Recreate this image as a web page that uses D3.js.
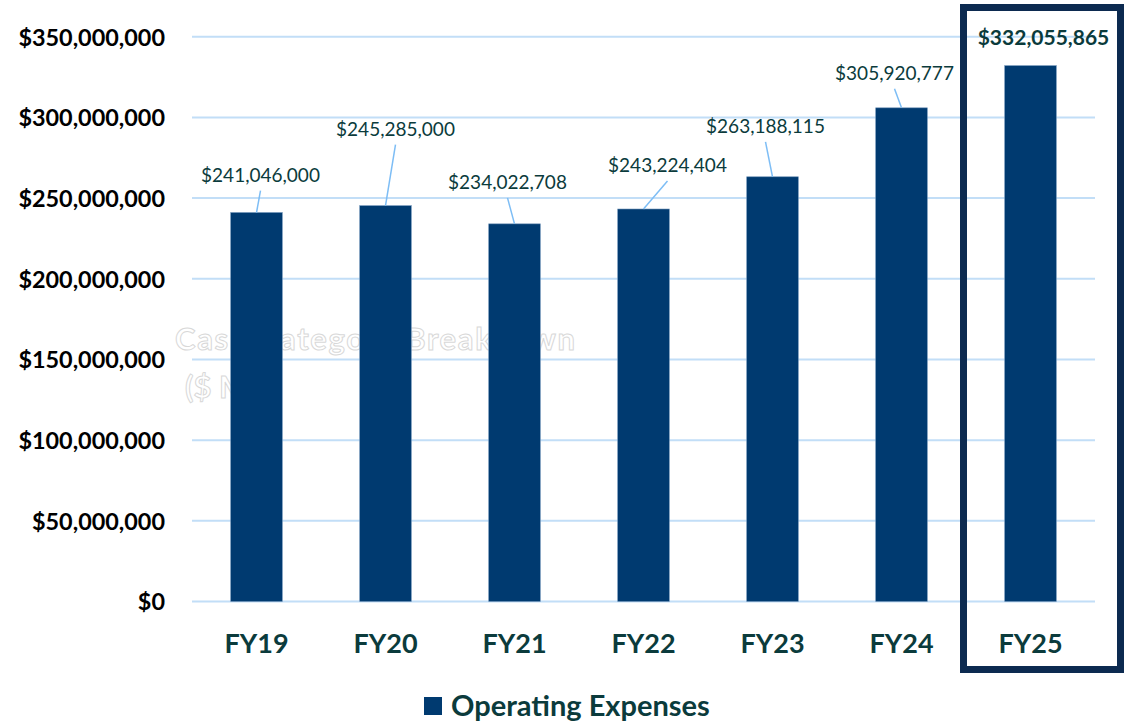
<!DOCTYPE html>
<head>
  <meta charset="UTF-8">
  <title>Operating Expenses</title>
  <style>
  body, html, svg{
    padding: 0;
    margin: 0;
  }
  body{
    background: #fff;
  }
  text{
    font-family: Lato, "Open Sans", sans-serif;
  }
  </style>
</head>
<body>
  <script src="https://cdn.jsdelivr.net/npm/d3@7"></script>
  <script type="text/javascript">
  var width = 1124;
  var height = 723;

  // data
  var years = ['FY19', 'FY20', 'FY21', 'FY22', 'FY23', 'FY24', 'FY25'];
  var expenses = [241046000, 245285000, 234022708, 243224404, 263188115, 305920777, 332055865];
  var yTicks = [0, 50000000, 100000000, 150000000, 200000000, 250000000, 300000000, 350000000];
  var seriesName = 'Operating Expenses';

  // where each data label sits relative to its bar top (layout only)
  var labelDx = [4, 10, -7, 24, -7, -7, 13];
  var labelDy = [-31, -70, -35, -37, -44, -28, -21];

  var navy = '#003a70';
  var teal = '#0b3b3c';

  var svg = d3.select('body')
    .append('svg')
    .attr('width', width)
    .attr('height', height);

  var x = d3.scaleBand()
    .domain(years)
    .range([192, 1095])
    .paddingInner(0.6)
    .paddingOuter(0.3);

  var y = d3.scaleLinear()
    .domain([0, 350000000])
    .range([601.5, 36.7]);

  var fmt = function(v){ return '$' + d3.format(',')(v); };

  //网格线
  svg.append('g')
    .selectAll('line')
    .data(yTicks)
    .enter()
    .append('line')
    .attr('x1', 192)
    .attr('x2', 1095)
    .attr('y1', function(d){ return y(d); })
    .attr('y2', function(d){ return y(d); })
    .attr('stroke', '#c2def7')
    .attr('stroke-width', 2);

  //背景水印
  var ghost = svg.append('g')
    .attr('fill', '#fff')
    .attr('stroke', '#d8d8d8')
    .attr('stroke-width', 1)
    .attr('font-weight', 'bold')
    .attr('font-size', 31);
  ghost.append('text')
    .attr('x', 175).attr('y', 350)
    .attr('textLength', 400)
    .attr('lengthAdjust', 'spacing')
    .text('Cash Category Breakdown');
  ghost.append('text').attr('x', 185).attr('y', 398).text('($ M)');

  //y轴
  var yAxis = d3.axisLeft(y)
    .tickValues(yTicks)
    .tickFormat(fmt)
    .tickSize(0)
    .tickPadding(0);
  var gy = svg.append('g')
    .attr('transform', 'translate(165,0)')
    .call(yAxis);
  gy.select('.domain').remove();
  gy.selectAll('text')
    .attr('font-family', 'Lato, sans-serif')
    .attr('font-size', 23.4)
    .attr('font-weight', 'bold')
    .attr('fill', '#000')
    .attr('dy', '0.36em');

  //x轴
  var xAxis = d3.axisBottom(x).tickSize(0).tickPadding(0);
  var gx = svg.append('g')
    .attr('transform', 'translate(0,653)')
    .call(xAxis);
  gx.select('.domain').remove();
  gx.selectAll('text')
    .attr('font-family', 'Lato, sans-serif')
    .attr('font-size', 27)
    .attr('font-weight', 'bold')
    .attr('fill', teal)
    .attr('dy', 0);

  //柱子
  svg.append('g')
    .selectAll('rect')
    .data(expenses)
    .enter()
    .append('rect')
    .attr('x', function(d, i){ return x(years[i]); })
    .attr('y', function(d){ return y(d); })
    .attr('width', x.bandwidth())
    .attr('height', function(d){ return y(0) - y(d); })
    .attr('fill', navy)
    .attr('stroke', '#6f93b8')
    .attr('stroke-width', 0.6);

  //引导线
  var cx = function(i){ return x(years[i]) + x.bandwidth() / 2; };
  svg.append('g')
    .selectAll('line')
    .data(expenses.slice(0, 6))
    .enter()
    .append('line')
    .attr('x1', function(d, i){ return cx(i) + labelDx[i]; })
    .attr('y1', function(d, i){ return y(d) + labelDy[i] + 9; })
    .attr('x2', function(d, i){ return cx(i); })
    .attr('y2', function(d){ return y(d); })
    .attr('stroke', '#7dbdf5')
    .attr('stroke-width', 1.5);

  //数据标签
  svg.append('g')
    .selectAll('text')
    .data(expenses)
    .enter()
    .append('text')
    .attr('x', function(d, i){ return cx(i) + labelDx[i]; })
    .attr('y', function(d, i){ return y(d) + labelDy[i]; })
    .attr('text-anchor', 'middle')
    .attr('font-size', function(d, i){ return i === 6 ? 21 : 19; })
    .attr('font-weight', function(d, i){ return i === 6 ? 'bold' : 'normal'; })
    .attr('fill', teal)
    .text(fmt);

  //高亮框
  var last = years[years.length - 1];
  svg.append('rect')
    .attr('x', x(last) - x.step() * x.paddingInner() / 2 - 2.5)
    .attr('y', 7.5)
    .attr('width', 157)
    .attr('height', 662)
    .attr('fill', 'none')
    .attr('stroke', '#0c2a50')
    .attr('stroke-width', 7);

  //图例
  var legend = svg.append('g').attr('transform', 'translate(424,697)');
  legend.append('rect')
    .attr('width', 18)
    .attr('height', 18)
    .attr('fill', navy);
  legend.append('text')
    .attr('x', 27)
    .attr('y', 19)
    .attr('font-size', 29)
    .attr('font-weight', 'bold')
    .attr('fill', teal)
    .text(seriesName);
  </script>
</body>
</html>
